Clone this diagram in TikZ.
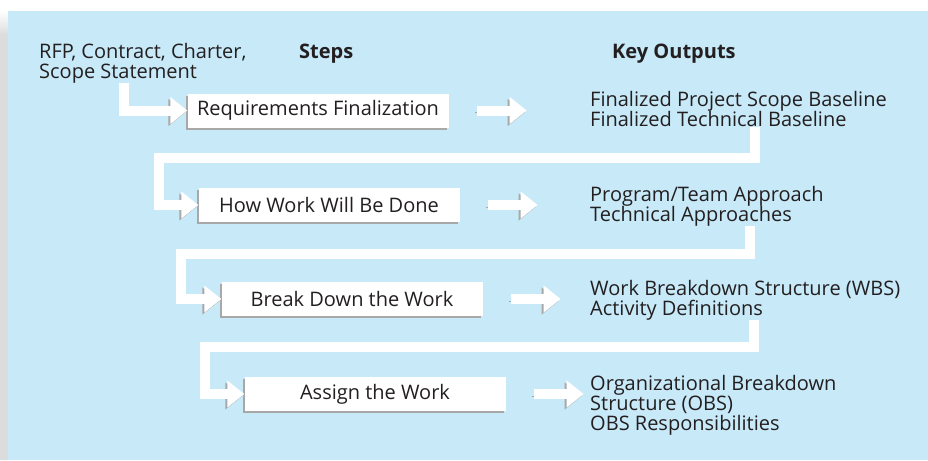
\documentclass[tikz,border=0pt]{standalone}
\usepackage{fontspec}
\setmainfont{Open Sans}
\usepackage{tikz}
\usetikzlibrary{arrows.meta,shadows}

\definecolor{panelblue}{RGB}{199,233,248}
\definecolor{edgegray}{RGB}{220,220,220}
\definecolor{shadegray}{RGB}{168,168,168}
\definecolor{inkgray}{RGB}{35,31,32}

\begin{document}
\begin{tikzpicture}[x=1pt, y=-1pt,
    every node/.style={font=\fontsize{20}{20}\selectfont, text=inkgray, inner sep=0pt},
    stepbox/.style={fill=white, minimum width=261pt, minimum height=34pt,
        drop shadow={shadow xshift=-2pt, shadow yshift=-2pt, fill=shadegray, opacity=1}},
    outtext/.style={anchor=base west, align=left},
    head/.style={anchor=base west, font=\fontsize{20}{20}\selectfont\bfseries},
    band/.style={white, line width=10pt, line join=miter, -{Triangle[length=17pt, width=26pt]},
        preaction={draw=shadegray, transform canvas={shift={(-2pt,-2pt)}}}}]
    \useasboundingbox (0,0) rectangle (928,460);
    \fill[white] (0,0) rectangle (928,460);
    \shade[top color=white, bottom color=edgegray] (0,11) rectangle (8,35);
    \fill[edgegray] (0,35) rectangle (8,460);
    \fill[panelblue] (8,11) rectangle (928,460);

    \node (source) [outtext] at (39,78) {RFP, Contract, Charter,\\Scope Statement};
    \node (steps) [head] at (299,58.5) {Steps};
    \node (outputs) [head] at (612,58.5) {Key Outputs};

    \node (req) [stepbox] at (318,110.5) {Requirements Finalization};
    \node (how) [stepbox] at (329,205) {How Work Will Be Done};
    \node (brk) [stepbox] at (352,299) {Break Down the Work};
    \node (asg) [stepbox] at (375,394) {Assign the Work};

    \node (reqout) [outtext] at (590,126.5) {Finalized Project Scope Baseline\\Finalized Technical Baseline};
    \node (howout) [outtext] at (590,221) {Program/Team Approach\\Technical Approaches};
    \node (brkout) [outtext] at (590,315) {Work Breakdown Structure (WBS)\\Activity Definitions};
    \node (asgout) [outtext] at (590,430) {Organizational Breakdown\\Structure (OBS)\\OBS Responsibilities};

    \coordinate (srcdrop) at (124,0);
    \coordinate (rdropA) at (755,0);
    \coordinate (rdropB) at (750,0);
    \coordinate (rdropC) at (754,0);
    \coordinate (turnA) at (159,157.5);
    \coordinate (turnB) at (181,254);
    \coordinate (turnC) at (204.5,347);

    \draw[band] (source.south -| srcdrop) |- (req.west);
    \draw[band] (reqout.south -| rdropA) |- (turnA) |- (how.west);
    \draw[band] (howout.south -| rdropB) |- (turnB) |- (brk.west);
    \draw[band] (brkout.south -| rdropC) |- (turnC) |- (asg.west);

    \draw[band] ([xshift=28pt]req.east) -- ++(50,0);
    \draw[band] ([xshift=28pt]how.east) -- ++(50,0);
    \draw[band] ([xshift=28pt]brk.east) -- ++(50,0);
    \draw[band] ([xshift=28pt]asg.east) -- ++(50,0);
  \end{tikzpicture}
\end{document}
